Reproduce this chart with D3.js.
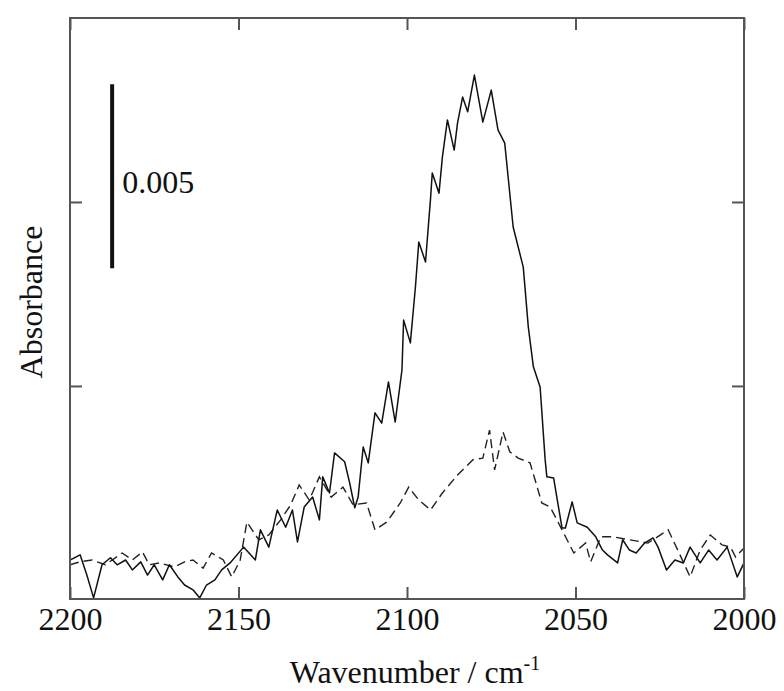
<!DOCTYPE html>
<html>
<head>
<meta charset="utf-8">
<script src="https://cdn.jsdelivr.net/npm/d3@7"></script>
<style>
  body { margin: 0; background: #fff; }
</style>
</head>
<body>
<svg id="chart"></svg>
<script>
// Spectra, absorbance in units of 1e-3
const solidWn = [2200, 2197, 2195, 2193, 2190.5, 2188, 2186, 2183.5, 2181.5, 2179, 2177, 2175, 2172.5, 2170.5, 2168, 2166, 2163.5, 2161.5, 2159.5, 2157, 2155, 2152.5,
  2148.5, 2145, 2143.5, 2141, 2138.5, 2136, 2134, 2132.5, 2130.5, 2128, 2126, 2125, 2123, 2121.5, 2118.5, 2117, 2115.5, 2114.5, 2113, 2111.5,
  2109.5, 2107.5, 2105.5, 2103.5, 2101.5, 2101, 2099, 2097.5, 2096.5, 2094.5, 2093, 2092.5, 2090.5, 2089.5, 2088, 2086, 2085, 2083.5, 2082,
  2080, 2077.5, 2075, 2073, 2071, 2068.5, 2065.5, 2064, 2062.5, 2060.5, 2059, 2058.5, 2056.5, 2054, 2053, 2051, 2049.5, 2046.5, 2044, 2042,
  2040.5, 2037.5, 2036, 2034, 2032, 2029.5, 2027, 2025.5, 2023, 2020.5, 2018, 2016, 2013, 2010.5, 2008, 2005, 2002, 2000];
const solidAbs = [0.27, 0.41, -0.14, -0.76, 0.14, 0.33, 0.14, 0.27, 0.0, 0.22, -0.14, 0.14, -0.27, 0.14, -0.19, -0.41, -0.54, -0.76, -0.41, -0.27, 0.0, 0.19,
  0.62, 0.27, 1.09, 0.62, 1.63, 1.16, 1.63, 0.76, 1.71, 1.98, 1.36, 2.53, 2.09, 3.18, 2.94, 2.36, 1.69, 1.98, 3.34, 2.91,
  4.27, 3.99, 5.11, 4.02, 5.43, 6.79, 6.17, 7.69, 8.91, 8.37, 10.11, 10.79, 10.24, 11.22, 12.23, 11.41, 12.15, 12.85, 12.45,
  13.45, 12.17, 13.04, 11.96, 11.6, 9.32, 8.23, 6.6, 5.52, 4.97, 2.99, 2.53, 2.5, 1.14, 1.14, 1.85, 1.28, 1.16, 0.9, 0.54,
  0.41, 0.19, 0.82, 0.54, 0.46, 0.73, 0.87, 0.62, 0.0, 0.27, 0.19, 0.62, 0.19, 0.54, 0.27, 0.62, -0.19, 0.19];

const dashWn = [2200, 2197, 2193.5, 2189.5, 2184.5, 2181.5, 2178.5, 2176.5, 2173.5, 2169, 2166, 2163.5, 2160.5, 2158, 2154.5, 2152, 2149.5,
  2147.5, 2144, 2141, 2137.5, 2134.5, 2132, 2129, 2126, 2122.5, 2119, 2116, 2112, 2109.5, 2106, 2102, 2099.5, 2096.5, 2093, 2089.5, 2085,
  2080.5, 2077.5, 2075.5, 2074, 2071.5, 2069.5, 2067, 2063.5, 2062, 2060, 2057.5, 2054, 2050.5, 2047, 2045.5, 2042.5, 2039, 2034, 2028.5,
  2022.5, 2019, 2016, 2013, 2010, 2006.5, 2004, 2002.5, 2000];
const dashAbs = [0.14, 0.22, 0.27, 0.14, 0.46, 0.27, 0.49, 0.14, 0.19, 0.08, 0.22, 0.27, 0.05, 0.46, 0.27, -0.19, 0.27,
  1.3, 0.82, 0.95, 1.36, 1.77, 2.31, 1.9, 2.53, 1.98, 2.25, 1.77, 1.82, 1.09, 1.3, 1.82, 2.25, 1.9, 1.63, 2.09, 2.58,
  2.99, 3.04, 3.8, 2.72, 3.75, 3.21, 3.04, 2.91, 2.45, 1.82, 1.71, 1.09, 0.46, 0.73, 0.22, 0.9, 0.9, 0.82, 0.73,
  1.09, 0.41, -0.19, 0.54, 0.95, 0.68, 0.62, 0.35, 0.6];

const xTicks = [2200, 2150, 2100, 2050, 2000];
const yTicks = [5, 10];
const scaleBarFrom = 8.2;   // scale bar: 0.005 absorbance
const scaleBarSpan = 5;
const scaleBarLabel = "0.005";

const serif = "'Liberation Serif', Tinos, 'Nimbus Roman', 'Nimbus Roman No9 L', FreeSerif, 'Noto Serif', 'DejaVu Serif', Times, serif";

const width = 784, height = 691;
const margin = { top: 18, right: 40, bottom: 92, left: 70 };
const plotW = width - margin.left - margin.right;
const plotH = height - margin.top - margin.bottom;

const svg = d3.select("#chart")
  .attr("width", width)
  .attr("height", height);

const x = d3.scaleLinear().domain([2200, 2000]).range([0, plotW]);
const y = d3.scaleLinear().domain([-0.79, 15]).range([plotH, 0]);

const g = svg.append("g")
  .attr("transform", `translate(${margin.left},${margin.top})`);

g.append("defs").append("clipPath")
  .attr("id", "clip")
  .append("rect")
  .attr("width", plotW)
  .attr("height", plotH);

const line = d3.line()
  .x(d => x(d[0]))
  .y(d => y(d[1]));

const solid = solidWn.map((w, i) => [w, solidAbs[i]]);
const dashed = dashWn.map((w, i) => [w, dashAbs[i]]);

g.append("path")
  .datum(dashed)
  .attr("clip-path", "url(#clip)")
  .attr("fill", "none")
  .attr("stroke", "#222")
  .attr("stroke-width", 1.4)
  .attr("stroke-dasharray", "9,5")
  .attr("d", line);

g.append("path")
  .datum(solid)
  .attr("clip-path", "url(#clip)")
  .attr("fill", "none")
  .attr("stroke", "#111")
  .attr("stroke-width", 1.5)
  .attr("stroke-linejoin", "round")
  .attr("d", line);

// axes, ticks pointing inward
const bottomAxis = g.append("g")
  .attr("transform", `translate(0,${plotH})`)
  .call(d3.axisBottom(x).tickValues(xTicks).tickSize(-12).tickPadding(8).tickFormat(d3.format("d")));
bottomAxis.attr("font-family", serif).attr("font-size", 32);
bottomAxis.selectAll("text")
  .attr("fill", "#111");

g.append("g")
  .call(d3.axisTop(x).tickValues(xTicks).tickSize(-12).tickFormat(""));
g.append("g")
  .call(d3.axisLeft(y).tickValues(yTicks).tickSize(-12).tickFormat(""));
g.append("g")
  .attr("transform", `translate(${plotW},0)`)
  .call(d3.axisRight(y).tickValues(yTicks).tickSize(-12).tickFormat(""));

g.selectAll(".domain").remove();
g.selectAll(".tick line").attr("stroke", "#555").attr("stroke-width", 2);

g.append("rect")
  .attr("width", plotW)
  .attr("height", plotH)
  .attr("fill", "none")
  .attr("stroke", "#555")
  .attr("stroke-width", 2);

// scale bar
g.append("line")
  .attr("x1", x(2187.5)).attr("x2", x(2187.5))
  .attr("y1", y(scaleBarFrom)).attr("y2", y(scaleBarFrom + scaleBarSpan))
  .attr("stroke", "#111")
  .attr("stroke-width", 4);

g.append("text")
  .attr("x", x(2187.5) + 10)
  .attr("y", y(scaleBarFrom + scaleBarSpan) + 109)
  .attr("font-family", serif)
  .attr("font-size", 32)
  .attr("fill", "#111")
  .text(scaleBarLabel);

// axis titles
const xt = svg.append("text")
  .attr("x", margin.left + plotW / 2 + 8)
  .attr("y", 683)
  .attr("text-anchor", "middle")
  .attr("font-family", serif)
  .attr("font-size", 32)
  .attr("fill", "#111");
xt.append("tspan").text("Wavenumber / cm");
xt.append("tspan").attr("dy", -13).attr("font-size", 20).text("-1");

svg.append("text")
  .attr("transform", `translate(42,${margin.top + 284}) rotate(-90)`)
  .attr("text-anchor", "middle")
  .attr("font-family", serif)
  .attr("font-size", 32)
  .attr("fill", "#111")
  .text("Absorbance");
</script>
</body>
</html>
